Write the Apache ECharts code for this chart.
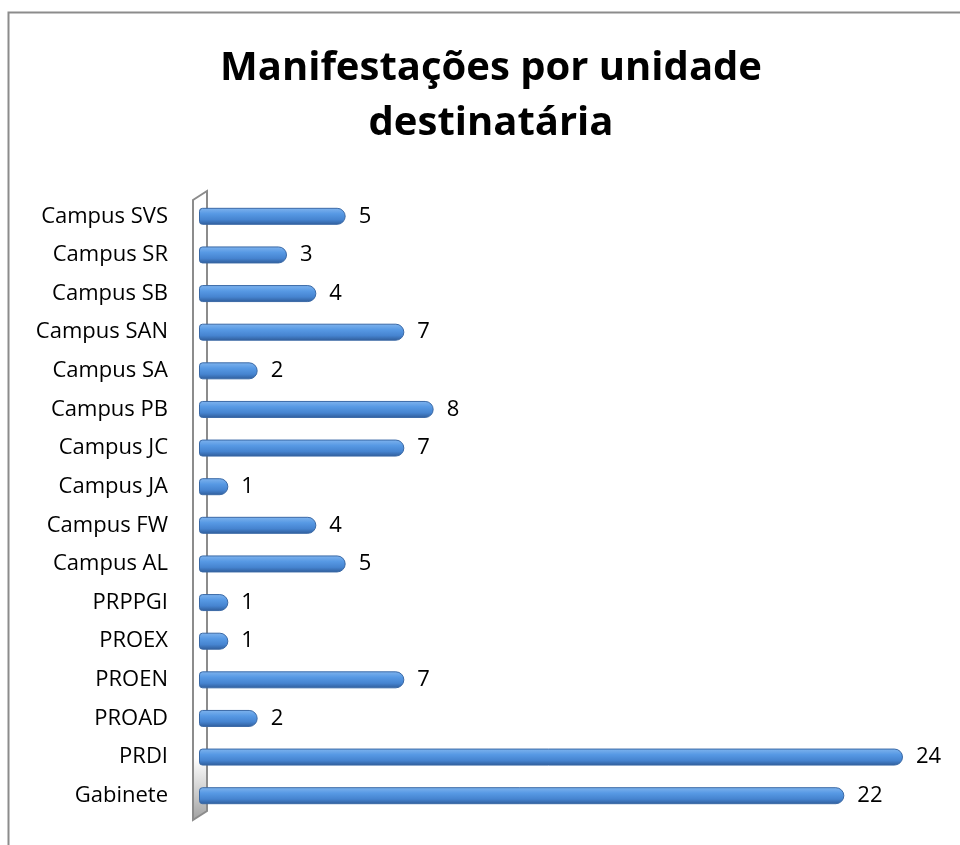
<!DOCTYPE html>
<html>
<head>
<meta charset="utf-8">
<script src="https://cdn.jsdelivr.net/npm/echarts@6/dist/echarts.min.js"></script>
<style>
html,body{margin:0;padding:0;background:#fff;}
#main{width:960px;height:845px;}
</style>
</head>
<body>
<div id="main"></div>
<script>
const titleText = "Manifestações por unidade\ndestinatária";
const categories = ["Campus SVS","Campus SR","Campus SB","Campus SAN","Campus SA","Campus PB","Campus JC","Campus JA","Campus FW","Campus AL","PRPPGI","PROEX","PROEN","PROAD","PRDI","Gabinete"];
const values = [5,3,4,7,2,8,7,1,4,5,1,1,7,2,24,22];

const FONT = "'Open Sans', sans-serif";
const chart = echarts.init(document.getElementById('main'), null, {renderer:'canvas'});

chart.setOption({
  backgroundColor:'#ffffff',
  animation:false,
  title:{
    text:titleText,
    left:486, textAlign:'center', top:36,
    textStyle:{fontFamily:FONT, fontWeight:'bold', fontSize:40, lineHeight:55, color:'#000'}
  },
  grid:{left:199, top:197, width:704, height:618, containLabel:false},
  xAxis:{
    type:'value', min:0, max:24, show:false
  },
  yAxis:{
    type:'category', data:categories, inverse:true,
    axisLine:{show:false}, axisTick:{show:false},
    axisLabel:{fontFamily:FONT, fontSize:22, color:'#000', margin:31}
  },
  graphic:[
    {type:'rect', shape:{x:8.5,y:12.5,width:980,height:900}, style:{fill:null, stroke:'#8c8c8c', lineWidth:2}, z:-10},
    {type:'polygon', shape:{points:[[193,200],[207,191],[207,811],[193,820]]},
     style:{fill:new echarts.graphic.LinearGradient(0,0,0,1,[{offset:0,color:'#ffffff'},{offset:0.9,color:'#ffffff'},{offset:0.96,color:'#c8c8c8'},{offset:1,color:'#a0a0a0'}]), stroke:'#8c8c8c', lineWidth:2}, z:-5}
  ],
  series:[{
    type:'bar',
    data:values,
    barWidth:17,
    itemStyle:{
      color:new echarts.graphic.LinearGradient(0,0,0,1,[
        {offset:0,color:'#80b4ee'},
        {offset:0.35,color:'#5799e4'},
        {offset:0.7,color:'#4684d0'},
        {offset:1,color:'#2f5c99'}
      ]),
      borderColor:'#3a69a6', borderWidth:1,
      borderRadius:[3,8,8,3]
    },
    label:{show:true, position:'right', distance:13, fontFamily:FONT, fontSize:22, color:'#000'}
  }]
});
</script>
</body>
</html>
